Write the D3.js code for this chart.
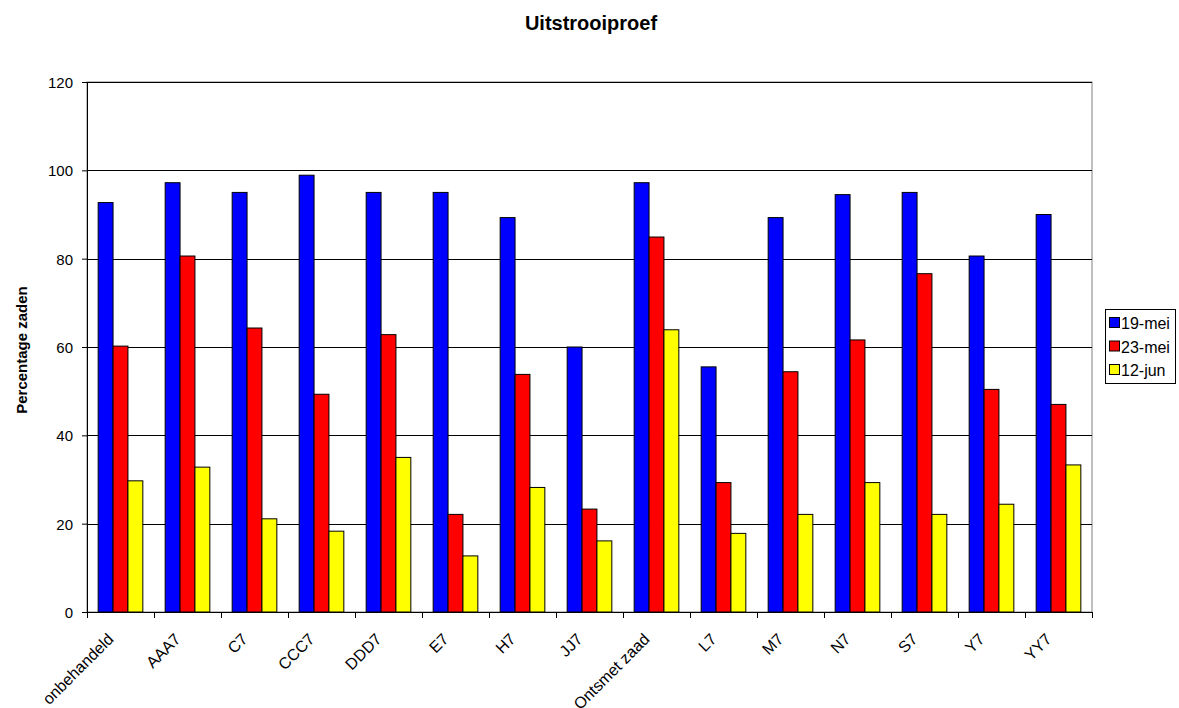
<!DOCTYPE html>
<html><head><meta charset="utf-8">
<script src="https://cdn.jsdelivr.net/npm/d3@7"></script>
<style>
body{margin:0;background:#fff;}
text{font-family:"Liberation Sans",Arial,sans-serif;}
</style></head>
<body><svg id="c" width="1179" height="708"></svg>
<script>
const categories = ["onbehandeld","AAA7","C7","CCC7","DDD7","E7","H7","JJ7","Ontsmet zaad","L7","M7","N7","S7","Y7","YY7"];
const seriesNames = ["19-mei","23-mei","12-jun"];
const mei19 = [92.7,97.2,95.0,98.9,95.0,95.0,89.3,60.0,97.2,55.5,89.3,94.5,95.0,80.6,90.0];
const mei23 = [60.2,80.6,64.3,49.3,62.8,22.1,53.8,23.3,84.9,29.3,54.4,61.6,76.6,50.4,47.0];
const jun12 = [29.7,32.8,21.1,18.3,35.0,12.7,28.2,16.1,63.9,17.8,22.1,29.3,22.1,24.4,33.3];
const yTicks = [0,20,40,60,80,100,120];
const colors = ["#0000ff","#ff0000","#ffff00"];

const series = [mei19, mei23, jun12];
const svg = d3.select("#c");
const L = 87, R = 1092, T = 82, B = 612;

const x = d3.scaleBand().domain(categories).range([L, R]).paddingInner(0).paddingOuter(0);
const y = d3.scaleLinear().domain([0,120]).range([B, T]);
const bw = x.bandwidth()/4.5;
const xs = d3.scaleBand().domain(seriesNames).range([0, bw*3]);

// plot border
svg.append("rect").attr("x",L).attr("y",T).attr("width",R-L).attr("height",B-T)
  .attr("fill","none").attr("stroke","#808080").attr("stroke-width",1);

// gridlines
svg.append("g").selectAll("line").data(yTicks.filter(d=>d>0)).join("line")
  .attr("x1",L).attr("x2",R).attr("y1",d=>Math.round(y(d))+0.5).attr("y2",d=>Math.round(y(d))+0.5)
  .attr("stroke","#000").attr("stroke-width",1);

// bars
const rows = [];
categories.forEach((c,i)=>seriesNames.forEach((s,j)=>rows.push({c,s,v:series[j][i],j})));
svg.append("g").selectAll("rect").data(rows).join("rect")
  .attr("x",d=>x(d.c)+(x.bandwidth()-bw*3)/2+xs(d.s))
  .attr("y",d=>y(d.v))
  .attr("width",xs.bandwidth())
  .attr("height",d=>B-y(d.v))
  .attr("fill",d=>colors[d.j])
  .attr("stroke","#000").attr("stroke-width",1);

// y axis
const ya = d3.axisLeft(y).tickValues(yTicks).tickSize(5).tickPadding(9).tickFormat(d3.format("d"));
const gy = svg.append("g").attr("transform",`translate(${L},0)`).call(ya);
gy.select(".domain").attr("stroke","#000");
gy.selectAll("text").attr("font-size",15).attr("fill","#000").attr("dy","0.36em");

// x axis
const xa = d3.axisBottom(x).tickSize(0).tickFormat(d=>d);
const gx = svg.append("g").attr("transform",`translate(0,${B})`).call(xa);
gx.select(".domain").attr("stroke","#000");
gx.selectAll("text").attr("font-size",16).attr("fill","#000")
  .attr("text-anchor","end")
  .attr("transform","translate(-12,22) rotate(-45)")
  .attr("dy","0.35em").attr("dx","0");
// boundary ticks
const bounds = categories.map(c=>x(c)).concat([R]);
svg.append("g").selectAll("line").data(bounds).join("line")
  .attr("x1",d=>Math.round(d)+0.5).attr("x2",d=>Math.round(d)+0.5)
  .attr("y1",B).attr("y2",B+6).attr("stroke","#000");

// title
svg.append("text").attr("x",591).attr("y",30).attr("text-anchor","middle")
  .attr("font-size",20).attr("font-weight","bold").text("Uitstrooiproef");
svg.append("text").attr("transform",`translate(27,350) rotate(-90)`)
  .attr("text-anchor","middle").attr("font-size",15).attr("font-weight","bold").text("Percentage zaden");

// legend
const lg = svg.append("g");
lg.append("rect").attr("x",1105.5).attr("y",309.5).attr("width",70).attr("height",74)
  .attr("fill","#fff").attr("stroke","#000");
seriesNames.forEach((s,i)=>{
  const cy = 323 + i*23.5;
  lg.append("rect").attr("x",1109.5).attr("y",cy-5.5).attr("width",10).attr("height",10)
    .attr("fill",colors[i]).attr("stroke","#000");
  lg.append("text").attr("x",1121).attr("y",cy+6).attr("font-size",16).text(s);
});
</script></body></html>
